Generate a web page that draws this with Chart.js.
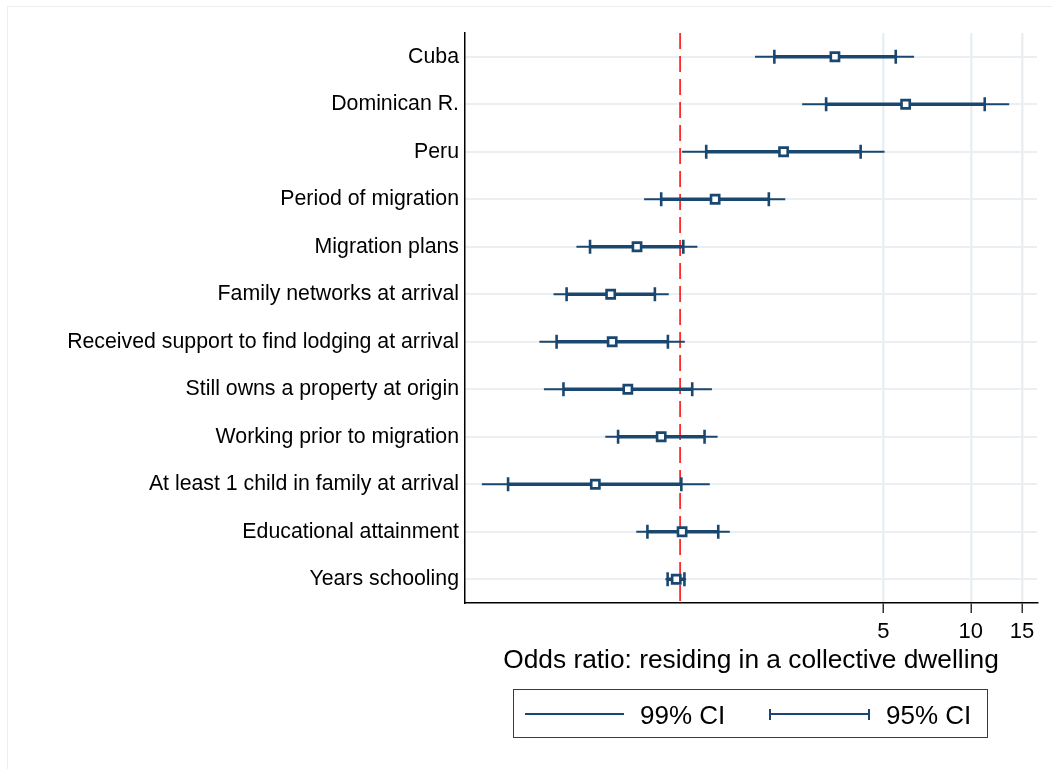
<!DOCTYPE html>
<html>
<head>
<meta charset="utf-8">
<script src="https://cdn.jsdelivr.net/npm/chart.js@4/dist/chart.umd.min.js"></script>
<style>
  body { margin: 0; background: #fff; }
  #wrap { position: relative; width: 1052px; height: 769px; overflow: hidden; background: #fff; }
  #coefChart { position: absolute; left: 0; top: 0; }
  .frame { position: absolute; left: 7px; top: 6px; width: 1100px; height: 800px;
           border-left: 1.5px solid #e9eff2; border-top: 1.5px solid #e9eff2; }
  .legend-box { position: absolute; left: 513px; top: 689px; width: 473px; height: 47px;
                border: 1.5px solid #3a3a3a; }
  .leg-text { position: absolute; top: 700px; height: 30px; line-height: 30px;
              font: 26px "Liberation Sans", Arial, sans-serif; color: #000; white-space: nowrap; }
  .leg-line { position: absolute; left: 525px; top: 713px; width: 99px; height: 0;
              border-top: 2px solid #1a476f; }
  .leg-cap { position: absolute; left: 769px; top: 709px; width: 101px; height: 11px;
             box-sizing: border-box; border-left: 2px solid #1a476f; border-right: 2px solid #1a476f; }
  .leg-cap::before { content: ""; position: absolute; left: 0; right: 0; top: 4px; height: 2px; background: #1a476f; }
</style>
</head>
<body>
<div id="wrap">
  <div class="frame"></div>
  <canvas id="coefChart" width="1052" height="769"></canvas>
  <div class="legend-box"></div>
  <div class="leg-line"></div>
  <div class="leg-text" style="left:640px">99% CI</div>
  <div class="leg-cap"></div>
  <div class="leg-text" style="left:886px">95% CI</div>
</div>
<script>
// odds ratios with 95% and 99% intervals
const categories = [
  "Cuba", "Dominican R.", "Peru", "Period of migration", "Migration plans",
  "Family networks at arrival", "Received support to find lodging at arrival",
  "Still owns a property at origin", "Working prior to migration",
  "At least 1 child in family at arrival", "Educational attainment", "Years schooling"
];
const oddsRatio = [3.41, 5.97, 2.27, 1.32, 0.711, 0.577, 0.584, 0.661, 0.861, 0.511, 1.016, 0.970];
const ci95Low   = [2.11, 3.18, 1.23, 0.861, 0.490, 0.407, 0.376, 0.397, 0.612, 0.256, 0.772, 0.906];
const ci95High  = [5.52, 11.17, 4.18, 2.02, 1.026, 0.819, 0.908, 1.101, 1.214, 1.010, 1.353, 1.035];
const ci99Low   = [1.81, 2.63, 1.016, 0.752, 0.440, 0.367, 0.328, 0.340, 0.553, 0.208, 0.707, 0.890];
const ci99High  = [6.38, 13.56, 5.05, 2.30, 1.147, 0.914, 1.038, 1.287, 1.346, 1.265, 1.483, 1.049];
const xTicks = [5, 10, 15];
const refValue = 1;

const navy = "#1a476f";

// one polyline per interval, broken by empty points
function intervals(lo, hi) {
  const pts = [];
  categories.forEach((c, i) => {
    pts.push({ x: lo[i], y: i }, { x: hi[i], y: i }, { x: null, y: null });
  });
  return pts;
}

const caps = [];
categories.forEach((c, i) => {
  caps.push({ x: ci95Low[i], y: i }, { x: ci95High[i], y: i });
});

Chart.defaults.font.family = '"Liberation Sans", Arial, sans-serif';
Chart.defaults.color = "#000";

const ctx = document.getElementById("coefChart").getContext("2d");
new Chart(ctx, {
  type: "scatter",
  data: {
    datasets: [
      {
        label: "Odds ratio",
        data: oddsRatio.map((v, i) => ({ x: v, y: i })),
        pointStyle: "rect",
        pointRadius: 5.8,
        pointBorderWidth: 2.6,
        pointBackgroundColor: "#fff",
        pointBorderColor: navy,
        order: 0
      },
      {
        label: "95% caps",
        data: caps,
        pointStyle: "line",
        pointRotation: 90,
        pointRadius: 7,
        pointBorderWidth: 2.6,
        pointBorderColor: navy,
        order: 1
      },
      {
        type: "line",
        label: "95% CI",
        data: intervals(ci95Low, ci95High),
        borderColor: navy,
        borderWidth: 3.6,
        pointRadius: 0,
        spanGaps: false,
        order: 2
      },
      {
        type: "line",
        label: "99% CI",
        data: intervals(ci99Low, ci99High),
        borderColor: navy,
        borderWidth: 2,
        pointRadius: 0,
        spanGaps: false,
        order: 3
      },
      {
        type: "line",
        label: "OR = 1",
        data: [{ x: refValue, y: -0.5 }, { x: refValue, y: categories.length - 0.5 }],
        borderColor: "#ff0000",
        borderWidth: 1.5,
        borderDash: [16, 7],
        pointRadius: 0,
        order: 4
      }
    ]
  },
  options: {
    responsive: false,
    animation: false,
    layout: { padding: { top: 33, right: 15, bottom: 92, left: 0 } },
    plugins: {
      legend: { display: false },
      tooltip: { enabled: false }
    },
    scales: {
      x: {
        type: "logarithmic",
        min: 0.182,
        max: 16.9,
        afterBuildTicks: (scale) => { scale.ticks = xTicks.map(v => ({ value: v })); },
        afterFit: (scale) => { scale.height = 74; },
        grid: { color: "#e9eff2", lineWidth: 2.5, tickLength: 10, tickColor: "#333", tickWidth: 1.5 },
        border: { color: "#000", width: 1.5 },
        ticks: { font: { size: 22 }, padding: 6, maxRotation: 0, autoSkip: false, callback: (v) => String(v) },
        title: {
          display: true,
          text: "Odds ratio: residing in a collective dwelling",
          font: { size: 26.3 },
          padding: 0
        }
      },
      y: {
        type: "linear",
        reverse: true,
        min: -0.5,
        max: categories.length - 0.5,
        afterBuildTicks: (scale) => { scale.ticks = categories.map((c, i) => ({ value: i })); },
        afterFit: (scale) => { scale.width = 465; },
        grid: { color: "#e9eff2", lineWidth: 2, drawTicks: false },
        border: { color: "#000", width: 1.5 },
        ticks: { font: { size: 21.3 }, padding: 6, autoSkip: false, callback: (v) => categories[v] }
      }
    }
  }
});
</script>
</body>
</html>
